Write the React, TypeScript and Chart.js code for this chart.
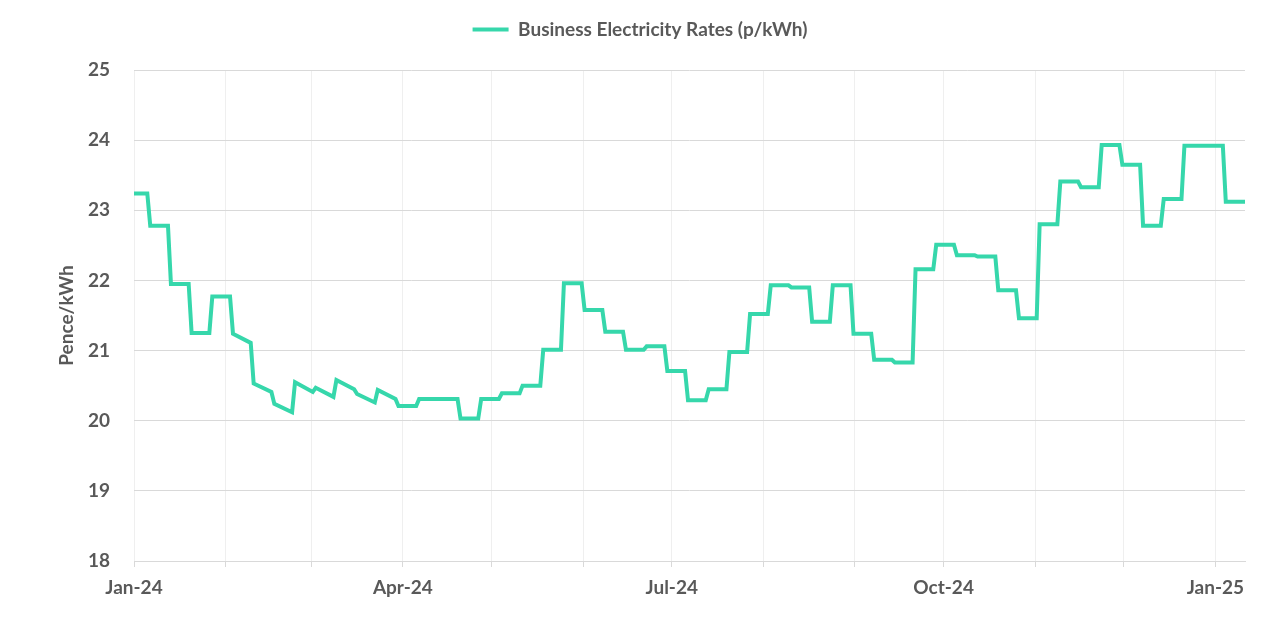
import React, { useEffect, useRef } from "react";
import { Chart, registerables } from "chart.js";

Chart.register(...registerables);

// Weekly business electricity rates (p/kWh): value at start and end of each week, Jan 2024 – Jan 2025
const weekOpen = [
  23.24, 22.78, 21.95, 21.25, 21.77, 21.24, 20.53, 20.24, 20.55, 20.47,
  20.58, 20.38, 20.44, 20.21, 20.31, 20.31, 20.03, 20.31, 20.39, 20.5,
  21.01, 21.96, 21.58, 21.27, 21.01, 21.06, 20.71, 20.29, 20.45, 20.98,
  21.52, 21.93, 21.9, 21.41, 21.93, 21.24, 20.87, 20.83, 22.16, 22.51,
  22.36, 22.34, 21.86, 21.46, 22.8, 23.41, 23.33, 23.93, 23.65, 22.78,
  23.16, 23.92, 23.92, 23.12,
];
const weekClose = [
  23.24, 22.78, 21.95, 21.25, 21.77, 21.11, 20.41, 20.12, 20.41, 20.34,
  20.45, 20.26, 20.31, 20.21, 20.31, 20.31, 20.03, 20.31, 20.39, 20.5,
  21.01, 21.96, 21.58, 21.27, 21.01, 21.06, 20.71, 20.29, 20.45, 20.98,
  21.52, 21.93, 21.9, 21.41, 21.93, 21.24, 20.87, 20.83, 22.16, 22.51,
  22.36, 22.34, 21.86, 21.46, 22.8, 23.41, 23.33, 23.93, 23.65, 22.78,
  23.16, 23.92, 23.92, 23.12,
];

// Month starts (day offset from 1 Jan 2024) and their labels (only quarters shown)
const monthStartDays = [0, 31, 60, 91, 121, 152, 182, 213, 244, 274, 305, 335, 366];
const monthLabels = ["Jan-24", "", "", "Apr-24", "", "", "Jul-24", "", "", "Oct-24", "", "", "Jan-25"];
const yTicks = [18, 19, 20, 21, 22, 23, 24, 25];
const lastDay = 376;

const TEXT = "#595959";
const FONT = "Lato";
const FSIZE = 19;
const LINE = "#36d7ab";

function buildPoints() {
  const pts: { x: number; y: number }[] = [];
  weekOpen.forEach((open, k) => {
    const start = k === 0 ? 0 : 7 * k - 1.5;
    const end = k === weekOpen.length - 1 ? lastDay : 7 * k + 4.5;
    pts.push({ x: start, y: open });
    pts.push({ x: end, y: weekClose[k] });
  });
  return pts;
}

export default function App() {
  const ref = useRef<HTMLCanvasElement | null>(null);
  useEffect(() => {
    if (!ref.current) return;
    const legendSpacer = {
      id: "legendSpacer",
      afterInit(chart: any) {
        const legend = chart.legend;
        if (!legend) return;
        const orig = legend.fit;
        legend.fit = function () {
          orig.call(this);
          this.height += 21;
        };
      },
    };
    const font = { family: FONT, size: FSIZE, weight: "bold" };
    const chart = new Chart(ref.current, {
      type: "line",
      data: {
        datasets: [
          {
            label: "Business Electricity Rates (p/kWh)",
            data: buildPoints(),
            borderColor: LINE,
            backgroundColor: LINE,
            borderWidth: 4,
            pointRadius: 0,
            tension: 0,
            borderJoinStyle: "miter",
          },
        ],
      },
      options: {
        animation: false,
        responsive: true,
        maintainAspectRatio: false,
        layout: { padding: { left: 0, right: 0, top: 10, bottom: 0 } },
        plugins: {
          legend: {
            display: true,
            position: "top",
            labels: {
              usePointStyle: true,
              pointStyle: "line",
              pointStyleWidth: 36,
              color: TEXT,
              font,
              padding: 10,
            },
          },
          tooltip: { enabled: false },
        },
        scales: {
          x: {
            type: "linear",
            min: 0,
            max: lastDay,
            afterBuildTicks(scale: any) {
              scale.ticks = monthStartDays.map((d) => ({ value: d }));
            },
            afterFit(scale: any) {
              scale.height = 77;
            },
            ticks: {
              autoSkip: false,
              maxRotation: 0,
              padding: 9,
              color: TEXT,
              font,
              callback: (v: any) => {
                const i = monthStartDays.indexOf(Number(v));
                return i >= 0 ? monthLabels[i] : "";
              },
            },
            grid: {
              color: "#efefef",
              lineWidth: 1,
              tickLength: 6,
              tickColor: "#d9d9d9",
            },
            border: { color: "#d9d9d9" },
          },
          y: {
            min: 18,
            max: 25,
            afterBuildTicks(scale: any) {
              scale.ticks = yTicks.map((v) => ({ value: v }));
            },
            afterFit(scale: any) {
              scale.width = 134;
            },
            ticks: {
              padding: 24,
              color: TEXT,
              font,
            },
            grid: { color: "#d9d9d9", lineWidth: 1, drawTicks: false },
            border: { display: false },
            title: {
              display: true,
              text: "Pence/kWh",
              color: TEXT,
              font,
              padding: { top: 55, bottom: 0 },
            },
          },
          spacerRight: {
            type: "linear",
            position: "right",
            display: true,
            afterFit(scale: any) {
              scale.width = 35;
            },
            ticks: { display: false },
            grid: { display: false, drawTicks: false },
            border: { display: false },
          },
        },
      },
      plugins: [legendSpacer],
    } as any);
    return () => chart.destroy();
  }, []);
  return (
    <div style={{ position: "absolute", left: 0, top: 0, width: 1280, height: 638 }}>
      <canvas ref={ref} />
    </div>
  );
}
